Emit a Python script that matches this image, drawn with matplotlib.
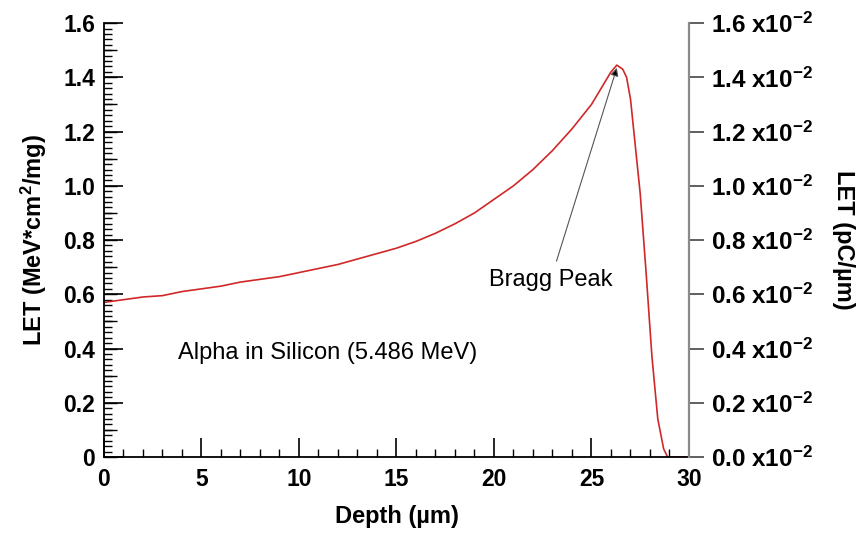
import matplotlib.pyplot as plt
from matplotlib.ticker import MultipleLocator, FuncFormatter, NullFormatter

plt.rcParams['font.family'] = ['Liberation Sans', 'DejaVu Sans']
plt.rcParams['font.weight'] = 'bold'
plt.rcParams['axes.labelweight'] = 'bold'
plt.rcParams['mathtext.fontset'] = 'custom'
plt.rcParams['mathtext.rm'] = 'Liberation Sans:bold'
plt.rcParams['mathtext.it'] = 'Liberation Sans:bold'
plt.rcParams['mathtext.bf'] = 'Liberation Sans:bold'

# profondeur (um) et LET (MeV*cm2/mg)
depth = [0, 1, 2, 3, 4, 5, 6, 7, 8, 9, 10, 11, 12, 13, 14, 15, 16, 17, 18, 19,
         20, 21, 22, 23, 24, 25, 25.5, 26, 26.3, 26.6, 26.8, 27.0, 27.2, 27.5,
         27.8, 28.1, 28.4, 28.7, 28.9, 30]
let = [0.57, 0.58, 0.59, 0.595, 0.61, 0.62, 0.63, 0.645, 0.655, 0.665, 0.68,
       0.695, 0.71, 0.73, 0.75, 0.77, 0.795, 0.825, 0.86, 0.90, 0.95, 1.00,
       1.06, 1.13, 1.21, 1.30, 1.36, 1.42, 1.445, 1.43, 1.40, 1.32, 1.18,
       0.97, 0.68, 0.37, 0.14, 0.03, 0.0, 0.0]

fig = plt.figure(figsize=(8.62, 5.37), dpi=100)
ax = fig.add_axes([0.1206, 0.149, 0.6787, 0.808])
ax.plot(depth, let, color='#d02828', lw=1.2)

ax.set_xlim(0, 30)
ax.set_ylim(0, 1.6)
ax.spines['top'].set_visible(False)
ax.spines['right'].set_visible(False)
ax.spines['left'].set_linewidth(1.3)
ax.spines['bottom'].set_linewidth(1.3)
ax.xaxis.set_major_locator(MultipleLocator(5))
ax.xaxis.set_minor_locator(MultipleLocator(1))
ax.yaxis.set_major_locator(MultipleLocator(0.2))
ax.yaxis.set_minor_locator(MultipleLocator(0.02))
ax.tick_params(which='both', direction='in', top=False, right=False)
ax.tick_params(which='major', length=13.5, width=1.2, labelsize=16.5)
ax.tick_params(which='minor', length=5.5, width=1)
ax.tick_params(axis='y', which='major', pad=6.5)
ax.tick_params(axis='x', which='major', pad=8)
ax.yaxis.set_major_formatter(FuncFormatter(lambda v, p: '0' if v == 0 else '%.1f' % v))
ax.set_xlabel('Depth (µm)', fontsize=17, fontweight='bold', labelpad=10)
ax.set_ylabel('LET (MeV*cm$^2$/mg)', fontsize=17, fontweight='bold', labelpad=10)

# graduations moyennes tous les 0.1
mid = ax.secondary_yaxis('left')
mid.yaxis.set_major_locator(MultipleLocator(0.1))
mid.yaxis.set_major_formatter(NullFormatter())
mid.tick_params(direction='in', length=9.5, width=1)
mid.spines['left'].set_visible(False)

ax2 = ax.twinx()
ax2.set_ylim(0, 1.6e-2)
ax2.spines['top'].set_visible(False)
ax2.spines['left'].set_visible(False)
ax2.spines['bottom'].set_visible(False)
ax2.spines['right'].set_color('#8a8a8a')
ax2.spines['right'].set_linewidth(1.6)
ax2.yaxis.set_major_locator(MultipleLocator(0.2e-2))
ax2.yaxis.set_major_formatter(FuncFormatter(lambda v, p: '%.1f x10$^{-2}$' % (v * 100)))
ax2.tick_params(direction='out', length=11, width=1.2, labelsize=17.5, pad=5, color='#444444')
ax2.set_ylabel('LET (pC/µm)', fontsize=17, fontweight='bold', rotation=-90, labelpad=30)

ax.text(3.8, 0.383, 'Alpha in Silicon (5.486 MeV)', fontsize=17,
        fontweight='normal', va='center')
ax.annotate('Bragg Peak', xy=(26.3, 1.435), xytext=(22.9, 0.652),
            fontsize=17, fontweight='normal', ha='center', va='center',
            arrowprops=dict(arrowstyle='-|>', color='#555555', lw=0.8,
                            mutation_scale=12, shrinkA=4, shrinkB=0,
                            fc='black'))

plt.savefig('out.png', dpi=100)
